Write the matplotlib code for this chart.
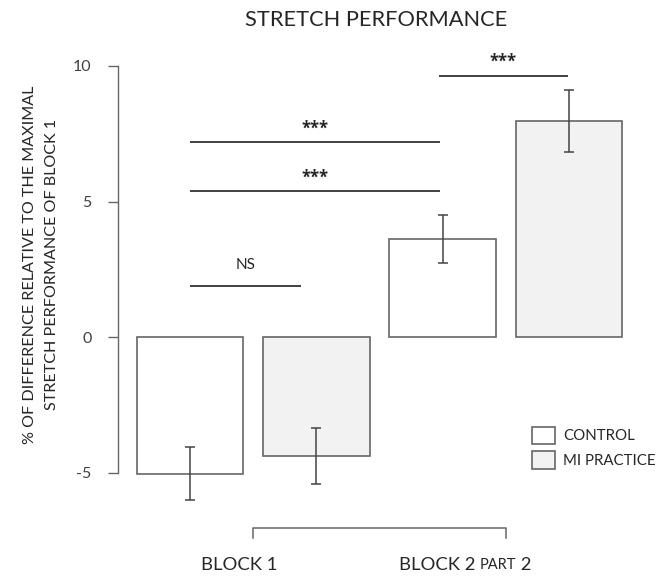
import matplotlib.pyplot as plt
from matplotlib.patches import Patch

plt.rcParams['font.family'] = ['Lato', 'DejaVu Sans']
TXT = '#262626'
EDGE = '#666666'

# Data
conditions = ['BLOCK 1', 'BLOCK 2 PART 2']
groups = ['CONTROL', 'MI PRACTICE']
values = [-5.03, -4.37, 3.61, 7.97]          # control B1, MI B1, control B2, MI B2
errors = [0.97, 1.03, 0.88, 1.15]
colors = ['white', '#f2f2f2', 'white', '#f2f2f2']
# significance bars: (x start, x end, height, label)
sig_x0 = [0, 0, 0, 1.97]
sig_x1 = [0.88, 1.98, 1.98, 2.99]
sig_y = [1.89, 5.39, 7.19, 9.64]
sig_labels = ['NS', '***', '***', '***']

fig = plt.figure(figsize=(6.71, 5.78), dpi=100)
ax = fig.add_axes([118 / 671, 0, (650 - 118) / 671, 518 / 578])

pos = list(range(len(values)))
ax.bar(pos, values, width=0.843, color=colors, edgecolor=EDGE, linewidth=1.2, zorder=2)
ax.errorbar(pos, values, yerr=errors, fmt='none', ecolor='#444444', elinewidth=1.1,
            capsize=3.3, capthick=1.1, zorder=3)

for x0, x1, y, lab in zip(sig_x0, sig_x1, sig_y, sig_labels):
    ax.plot([x0, x1], [y, y], color='#333333', lw=1.3, solid_capstyle='butt')
    if lab == 'NS':
        ax.text((x0 + x1) / 2, y + 0.78, lab, ha='center', va='center', fontsize=11, color=TXT)
    else:
        ax.text((x0 + x1) / 2, y + 0.5, lab, ha='center', va='center', fontsize=12,
                color=TXT, fontweight='bold', family='Open Sans')

ax.set_xlim(-0.57, 3.64)
ax.set_ylim(-8.87, 10.22)

for s in ['top', 'right', 'bottom']:
    ax.spines[s].set_visible(False)
ax.spines['left'].set_bounds(-5, 10)
ax.spines['left'].set_color(EDGE)
ax.spines['left'].set_linewidth(1.0)
ax.set_yticks([-5, 0, 5, 10])
ax.set_yticklabels(['-5', '0', '5', '10'])
ax.tick_params(axis='y', length=7, width=1.0, color=EDGE, labelsize=11.5, labelcolor='#404040', pad=12)
ax.set_xticks([])

ax.set_ylabel('% OF DIFFERENCE RELATIVE TO THE MAXIMAL\nSTRETCH PERFORMANCE OF BLOCK 1',
              fontsize=11.6, color=TXT, linespacing=1.75)
ax.yaxis.set_label_coords(-0.111, 0.605)

# condition bracket below the bars
ax.plot([0.5, 0.5, 2.5, 2.5], [-7.4, -7.03, -7.03, -7.4], color=EDGE, lw=1.1, clip_on=False)
ax.text(0.39, -8.4, conditions[0], ha='center', va='center', fontsize=13.3, color=TXT)
t1 = ax.text(1.65, -8.4, 'BLOCK 2 ', ha='left', va='center', fontsize=13.3, color=TXT)
t2 = ax.annotate('PART', xy=(1, 0.1), xycoords=t1, ha='left', va='bottom', fontsize=10.5, color=TXT)
ax.annotate(' 2', xy=(1, -0.1), xycoords=t2, ha='left', va='bottom', fontsize=13.3, color=TXT)

handles = [Patch(facecolor=c, edgecolor=EDGE, linewidth=1.2) for c in colors[:2]]
fig.legend(handles, groups, loc='upper left', bbox_to_anchor=(524 / 671, 1 - 419 / 578),
           frameon=False, borderpad=0, fontsize=10.8, handlelength=1.55, handleheight=1.4,
           labelspacing=0.5, handletextpad=0.55, labelcolor=TXT)

fig.text(376 / 671, 1 - 20 / 578, 'STRETCH PERFORMANCE', ha='center', va='center',
         fontsize=15.7, color=TXT)

plt.savefig('out.png', dpi=100)
